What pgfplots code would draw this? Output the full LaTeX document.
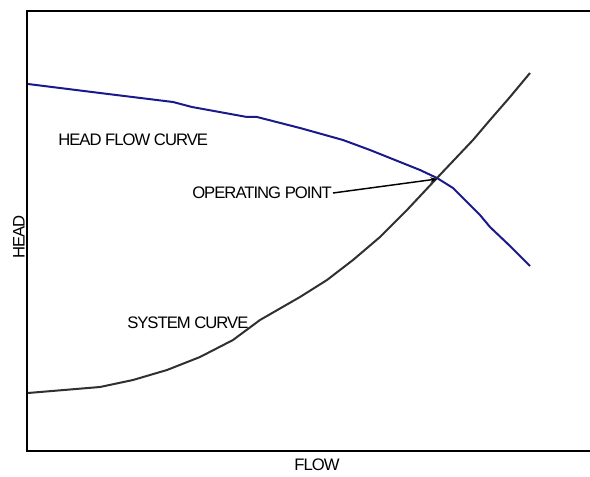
\documentclass[border=0pt]{standalone}
\usepackage{pgfplots}
\pgfplotsset{compat=1.18}
\usepackage{fontspec}
\setmainfont{Liberation Sans}[LetterSpace=-6]
\usetikzlibrary{arrows.meta}

\definecolor{headblue}{HTML}{1A1A8C}
\definecolor{sysgray}{HTML}{303030}
\tikzset{lbl/.style={font=\fontsize{12.5}{14}\selectfont, inner sep=0pt}}

\begin{document}
\begin{tikzpicture}
% page = 590 x 476 px at 0.75pt per px, axis box corner at (0,0)
\path[use as bounding box] (-20.25pt,-18.75pt) rectangle (422.25pt,338.25pt);
\clip (-20.25pt,-18.75pt) rectangle (422.25pt,338.25pt);
\begin{axis}[
    at={(0,0)}, anchor=south west,
    scale only axis,
    width=433.5pt, height=330pt,
    xmin=27, xmax=605, ymin=0, ymax=440,
    xtick=\empty, ytick=\empty,
    axis line style={line width=2.2pt, black},
    clip=false,
]
% head flow (pump) curve
\addplot[headblue, line width=1.5pt] coordinates {
(28,367) (100,358) (173,349) (192,344) (247,334) (257,334) (300,323)
(343,311) (370,301) (400,289) (420,281) (437,273) (453,263) (458,258)
(480,236) (490,224) (510,205) (530,185)
};
% system curve
\addplot[sysgray, line width=1.5pt] coordinates {
(28,58) (100,64) (133,71) (167,81) (200,94) (233,111) (260,131)
(300,154) (327,171) (353,191) (380,214) (407,241) (437,273) (473,311)
(490,331) (510,354) (530,378)
};
\draw[black, line width=1.1pt, -{Stealth[length=5pt,width=4pt]}] (axis cs:333,258) -- (axis cs:437,272);
\node[lbl, anchor=west] at (axis cs:58,311) {HEAD FLOW CURVE};
\node[lbl, anchor=west] at (axis cs:192,258) {OPERATING POINT};
\node[lbl, anchor=west] at (axis cs:127,128) {SYSTEM CURVE};
\node[lbl] at (axis cs:317,-14) {FLOW};
\node[lbl, rotate=90] at (axis cs:19,214) {HEAD};
\end{axis}
\end{tikzpicture}
\end{document}
